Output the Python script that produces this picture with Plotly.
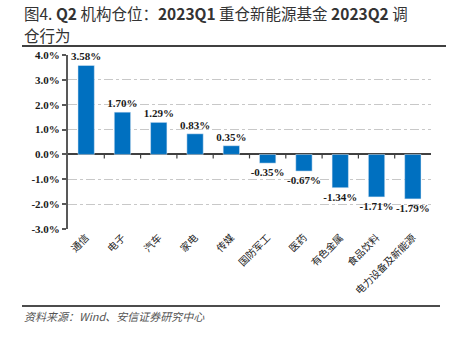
import plotly.graph_objects as go

categories = ["通信", "电子", "汽车", "家电", "传媒", "国防军工", "医药", "有色金属", "食品饮料", "电力设备及新能源"]
values = [3.58, 1.70, 1.29, 0.83, 0.35, -0.35, -0.67, -1.34, -1.71, -1.79]
ytick_vals = [-3, -2, -1, 0, 1, 2, 3, 4]
ytick_text = ["-3.0%", "-2.0%", "-1.0%", "0.0%", "1.0%", "2.0%", "3.0%", "4.0%"]
title_line1 = "图4. <b>Q2</b> 机构仓位：<b>2023Q1</b> 重仓新能源基金 <b>2023Q2</b> 调"
title_line2 = "仓行为"
source = "资料来源：Wind、安信证券研究中心"

W, H = 458, 340
L, R, T, B = 68, 27, 55, 111
pw, ph = W - L - R, H - T - B

def px(x):
    return (x - L) / pw

def py(y):
    return 1 - (y - T) / ph

labels = [f"<b>{v:.2f}%</b>" for v in values]

fig = go.Figure()
fig.add_trace(go.Bar(
    x=categories, y=values, marker_color="#0070C0", width=0.45,
    text=labels, textposition="outside", constraintext="none",
    textfont=dict(family="Liberation Serif", size=11, color="#1a1a1a"),
    cliponaxis=False,
))

fig.update_layout(
    width=W, height=H, margin=dict(l=L, r=R, t=T, b=B),
    paper_bgcolor="white", plot_bgcolor="white", showlegend=False,
    xaxis=dict(
        type="category", range=[-0.5, len(categories) - 0.5],
        tickangle=-45, showgrid=False, showline=False, ticks="",
        tickfont=dict(family="Noto Sans CJK SC", size=10, color="#222"),
    ),
    yaxis=dict(
        range=[-3, 4], tickvals=ytick_vals, ticktext=["<b>" + t + "</b>" for t in ytick_text],
        showgrid=True, gridcolor="#c8c8c8", griddash="dashdot", gridwidth=1,
        zeroline=True, zerolinecolor="#404040", zerolinewidth=1.5,
        showline=True, linecolor="#595959", linewidth=2,
        ticks="outside", ticklen=4, tickcolor="#595959", tickwidth=1.5,
        tickfont=dict(family="Liberation Serif", size=11, color="#1a1a1a"),
    ),
    font=dict(family="Liberation Serif"),
)

# small ticks on zero line between categories
for i in range(len(categories) - 1):
    fig.add_shape(type="line", xref="x", yref="y", x0=i + 0.5, x1=i + 0.5,
                  y0=0, y1=-4, ysizemode="pixel", yanchor=0,
                  line=dict(color="#404040", width=1.2))

# title
fig.add_annotation(xref="paper", yref="paper", x=px(22), y=py(13), xanchor="left", yanchor="middle",
                   text=title_line1, showarrow=False,
                   font=dict(family="Noto Sans CJK SC", size=15.5, color="#333"))
fig.add_annotation(xref="paper", yref="paper", x=px(22), y=py(35), xanchor="left", yanchor="middle",
                   text=title_line2, showarrow=False,
                   font=dict(family="Noto Sans CJK SC", size=15.5, color="#333"))
fig.add_shape(type="line", xref="paper", yref="paper", x0=px(22), x1=px(446), y0=py(46), y1=py(46),
              line=dict(color="#404040", width=2))
fig.add_shape(type="line", xref="paper", yref="paper", x0=px(22), x1=px(440), y0=py(306), y1=py(306),
              line=dict(color="#111", width=1.5))
fig.add_annotation(xref="paper", yref="paper", x=px(22), y=py(316), xanchor="left", yanchor="middle",
                   text="<i>" + source + "</i>", showarrow=False,
                   font=dict(family="Noto Sans CJK SC", size=11, color="#555"))

fig.write_html("out.html")
